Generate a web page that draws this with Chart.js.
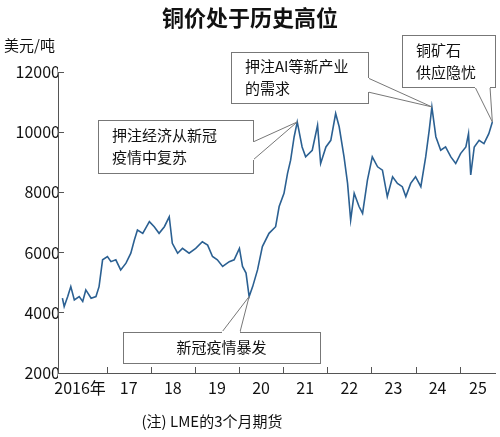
<!DOCTYPE html>
<html><head><meta charset="utf-8">
<script src="https://cdn.jsdelivr.net/npm/chart.js@4/dist/chart.umd.min.js"></script>
<style>html,body{margin:0;padding:0;background:#fff}#w{position:relative;width:500px;height:437px}</style>
</head><body><div id="w"><canvas id="c" width="500" height="437"></canvas></div>
<script>
const years = [2016.00,2016.04,2016.12,2016.19,2016.27,2016.38,2016.46,2016.53,2016.65,2016.76,2016.83,2016.91,2017.02,2017.10,2017.21,2017.32,2017.44,2017.55,2017.63,2017.70,2017.82,2017.97,2018.08,2018.19,2018.31,2018.42,2018.49,2018.61,2018.72,2018.87,2019.02,2019.17,2019.29,2019.40,2019.51,2019.63,2019.78,2019.89,2020.01,2020.08,2020.16,2020.23,2020.31,2020.42,2020.53,2020.68,2020.83,2020.91,2021.02,2021.10,2021.17,2021.25,2021.32,2021.43,2021.51,2021.66,2021.78,2021.85,2021.97,2022.08,2022.19,2022.27,2022.38,2022.46,2022.53,2022.61,2022.72,2022.80,2022.91,2023.02,2023.14,2023.25,2023.36,2023.48,2023.59,2023.70,2023.78,2023.89,2024.00,2024.12,2024.23,2024.31,2024.37,2024.46,2024.57,2024.68,2024.80,2024.91,2025.02,2025.14,2025.20,2025.25,2025.33,2025.44,2025.55,2025.66,2025.74];
const prices = [4485,4210,4540,4870,4430,4540,4380,4760,4485,4540,4870,5760,5870,5700,5760,5425,5650,5980,6420,6750,6640,7030,6860,6640,6860,7190,6310,5980,6140,5980,6140,6360,6250,5870,5760,5540,5700,5760,6140,5540,5320,4540,4870,5425,6200,6640,6860,7530,7970,8630,9070,9850,10340,9510,9180,9400,10230,8960,9510,9730,10620,10180,9180,8300,7080,7970,7530,7300,8410,9180,8850,8740,7860,8520,8300,8190,7860,8300,8520,8190,9180,10070,10840,9850,9400,9510,9180,8960,9290,9510,9950,8580,9510,9730,9620,9950,10340];
const yearLabels = ['2016年','17','18','19','20','21','22','23','24','25'];
const yTicks = [2000,4000,6000,8000,10000,12000];
const notes = [
  {lines:['押注经济从新冠','疫情中复苏'], box:[98,120,155,53], at:[2021.32,10340], from:[[253,142],[253,160]]},
  {lines:['押注AI等新产业','的需求'], box:[231,52,137,51], at:[2024.37,10840], from:[[368,78],[368,92]]},
  {lines:['铜矿石','供应隐忧'], box:[402,35,93,52], at:[2025.74,10340], from:[[475,87],[490,87]]},
  {lines:['新冠疫情暴发'], box:[123,332,197,31], at:[2020.23,4540], from:[[222,332],[240,332]]}
];
const F = '"Noto Sans CJK SC", "Noto Sans", sans-serif';
const deco = {
  id:'deco',
  afterDraw(ch){
    const c=ch.ctx, x=ch.scales.x, y=ch.scales.y;
    c.save();
    c.fillStyle='#111'; c.font='bold 22px '+F; c.textAlign='center'; c.textBaseline='middle';
    c.fillText('铜价处于历史高位',250,18);
    c.font='15px '+F; c.textAlign='left'; c.fillText('美元/吨',4,45);
    c.textAlign='center'; c.fillText('(注) LME的3个月期货',212,421);
    c.strokeStyle='#555'; c.lineWidth=1;
    for(let i=0;i<=yearLabels.length;i++){
      const px=Math.round(x.getPixelForValue(2016+i))+0.5;
      if(i>0){c.beginPath();c.moveTo(px,y.bottom);c.lineTo(px,y.bottom-6);c.stroke();}
      if(i<yearLabels.length){
        let lx=x.getPixelForValue(2016.5+i); if(i===0) lx=x.getPixelForValue(2016.4);
        c.fillStyle='#111'; c.font='16px '+F; c.fillText(yearLabels[i],Math.min(lx,478),388);
      }
    }
    for(const n of notes){
      const [bx,by,bw,bh]=n.box;
      const px=x.getPixelForValue(n.at[0]), py=y.getPixelForValue(n.at[1]);
      c.fillStyle='#fff'; c.strokeStyle='#777'; c.lineWidth=1;
      c.fillRect(bx,by,bw,bh); c.strokeRect(bx+0.5,by+0.5,bw,bh);
      c.beginPath(); c.moveTo(n.from[0][0],n.from[0][1]); c.lineTo(px,py); c.lineTo(n.from[1][0],n.from[1][1]); c.closePath();
      c.fill(); c.stroke();
      c.strokeStyle='#fff'; c.lineWidth=2; c.beginPath(); c.moveTo(n.from[0][0],n.from[0][1]); c.lineTo(n.from[1][0],n.from[1][1]); c.stroke();
      c.fillStyle='#111'; c.font='15px '+F; c.textAlign='left';
      const lh=22, sy=by+bh/2-(n.lines.length-1)*lh/2;
      n.lines.forEach((t,k)=>c.fillText(t, n.lines.length===1? bx+bw/2-c.measureText(t).width/2 : bx+14, sy+k*lh));
    }
    c.restore();
  }
};
new Chart(document.getElementById('c'),{
  type:'line',
  data:{datasets:[{data:years.map((t,i)=>({x:t,y:prices[i]})),borderColor:'#2b6092',borderWidth:1.6,pointRadius:0,tension:0}]},
  options:{responsive:false,animation:false,
    layout:{padding:{top:72,bottom:64,right:5,left:0}},
    plugins:{legend:{display:false},tooltip:{enabled:false}},
    scales:{
      x:{type:'linear',min:2015.9,max:2025.8,ticks:{display:false},grid:{display:false},border:{color:'#555'},afterFit(s){s.height=0;}},
      y:{min:2000,max:12000,afterBuildTicks(s){s.ticks=yTicks.map(v=>({value:v}));},
        ticks:{color:'#111',font:{size:16,family:F},padding:4,callback:v=>String(v)},
        grid:{drawOnChartArea:false,tickLength:-6,color:'#555'},border:{color:'#555'},
        afterFit(s){s.width=58;}}
    }},
  plugins:[deco]
});
</script></body></html>
